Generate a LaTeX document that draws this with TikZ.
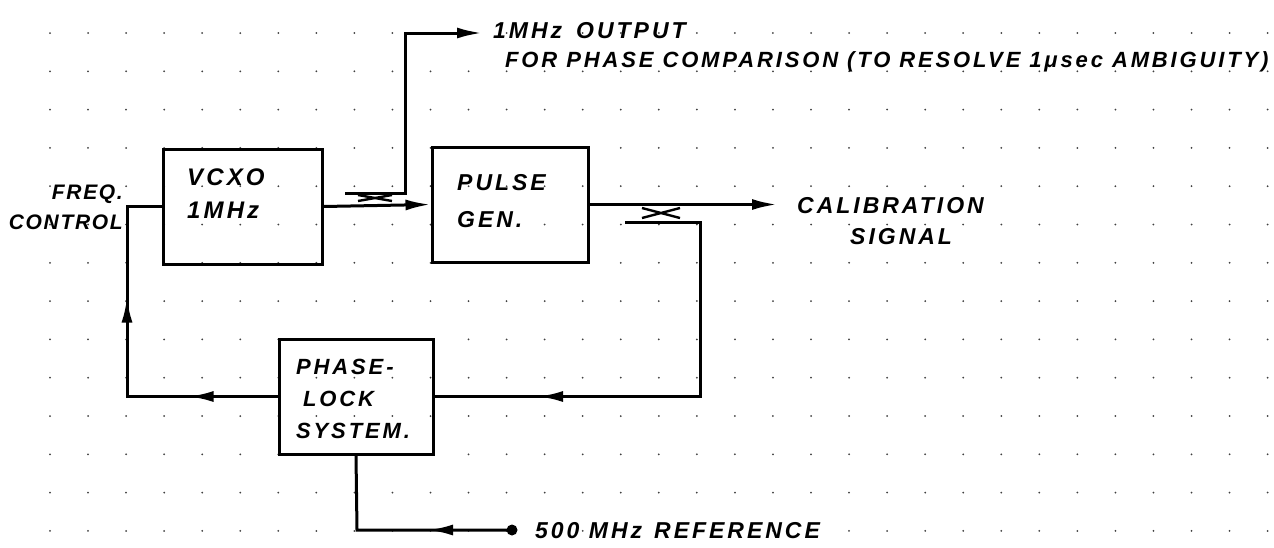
\documentclass[tikz,border=0pt]{standalone}
\usepackage{fontspec}
\setmainfont{Liberation Sans}
\newfontfamily\handA[LetterSpace=13]{Liberation Sans}
\newfontfamily\handB[LetterSpace=13]{Liberation Sans}
\newfontfamily\handC[LetterSpace=8]{Liberation Sans}
\usetikzlibrary{arrows.meta,decorations.markings}
\begin{document}
\begin{tikzpicture}[x=1pt,y=-1pt,
  wire/.style={line width=3pt},
  blk/.style={draw, line width=3pt, inner sep=0pt},
  lbl/.style={font=\handA\bfseries\itshape\fontsize{23}{26}\selectfont, inner sep=0pt},
  tipend/.style={-{Latex[length=25pt,width=11pt]}},
  gdot/.style={fill=black!75},
]
\useasboundingbox (0,0) rectangle (1274,547);
\fill[white] (0,0) rectangle (1274,547);
% graph-paper dots
\foreach \i in {0,...,32}{\foreach \j in {0,...,13}{
  \fill[gdot] ({50+38.05*\i},{33+38.3*\j}) circle (1pt);}}

% blocks
\node[blk, minimum width=159pt, minimum height=115pt] (vcxo) at (242.5,206.5) {};
\node[blk, minimum width=156pt, minimum height=115pt] (pulse) at (510,204.5) {};
\node[blk, minimum width=154pt, minimum height=115pt] (pll) at (356,396.5) {};

% block texts
\node[lbl, align=left, anchor=west, font=\handA\bfseries\itshape\fontsize{24}{33}\selectfont] (vcxoT) at (187,194) {VCXO\\1MHz};
\node[lbl, align=left, anchor=west, font=\handA\bfseries\itshape\fontsize{23}{37}\selectfont] (pulseT) at (457,201) {PULSE\\GEN.};
\node[lbl, align=left, anchor=west, font=\handA\bfseries\itshape\fontsize{22}{32}\selectfont] (pllT) at (296,399) {PHASE-\\\hspace*{7pt}LOCK\\SYSTEM.};

% outer texts
\node[lbl, align=right, anchor=east, font=\handC\bfseries\itshape\fontsize{21}{30}\selectfont] (fc) at (123,207) {FREQ.\\CONTROL};
\node[lbl, anchor=west] (out1) at (493,31) {1MHz\hspace{14pt}OUTPUT};
\node[lbl, anchor=west, font=\handB\bfseries\itshape\fontsize{22}{26}\selectfont] (out2) at (505,62) {FOR PHASE COMPARISON (TO RESOLVE 1μsec AMBIGUITY)};
\node[lbl, align=left, anchor=west, font=\handA\bfseries\itshape\fontsize{23}{31}\selectfont] (cal) at (797,221) {CALIBRATION\\\hspace*{53pt}SIGNAL};
\node[lbl, anchor=west] (ref) at (535,531) {500 MHz\hspace{12pt}REFERENCE};

% coordinates
\coordinate (fcB) at (127,396.5);
\coordinate (fcT) at (127,206.5);
\coordinate (c1s) at (345,193);
\coordinate (c1c) at (405,193);
\coordinate (c1u) at (405,33);
\coordinate (c1e) at (482,33);
\coordinate (calE) at (777,204.5);
\coordinate (c2s) at (625,222);
\coordinate (c2c) at (700,222);
\coordinate (c2d) at (700,396.5);
\coordinate (refD) at (512,530);
\coordinate (refC) at (357,530);

% feedback to VCXO
\draw[wire, postaction={decorate}, decoration={markings,
   mark=at position 89pt with {\arrow{Latex[length=25pt,width=11pt]}},
   mark=at position 249.5pt with {\arrow{Latex[length=25pt,width=11pt]}}}]
  (pll.west) -- (fcB) -- (fcT) -- (vcxo.west);

% VCXO -> pulse gen
\draw[wire, tipend] (vcxo.east) -- (pulse.west);

% 1 MHz output coupler
\draw[wire, tipend] (c1s) -- (c1c) -- (c1u) -- (c1e);
\draw[line width=2.4pt] (358,195) -- (392,201) (358,201) -- (392,195);

% calibration signal
\draw[wire, tipend] (pulse.east) -- (calE);

% coupler to phase lock
\draw[wire, postaction={decorate}, decoration={markings,
   mark=at position 411.5pt with {\arrow{Latex[length=25pt,width=11pt]}}}]
  (c2s) -- (c2c) -- (c2d) -- (pll.east);
\draw[line width=2.4pt] (642,208) -- (680,218) (642,218) -- (680,208);

% reference input
\draw[wire, postaction={decorate}, decoration={markings,
   mark=at position 84pt with {\arrow{Latex[length=25pt,width=11pt]}}}]
  (refD) -- (refC) -- (pll.south);
\fill (refD) circle (5.5pt);
\end{tikzpicture}
\end{document}
